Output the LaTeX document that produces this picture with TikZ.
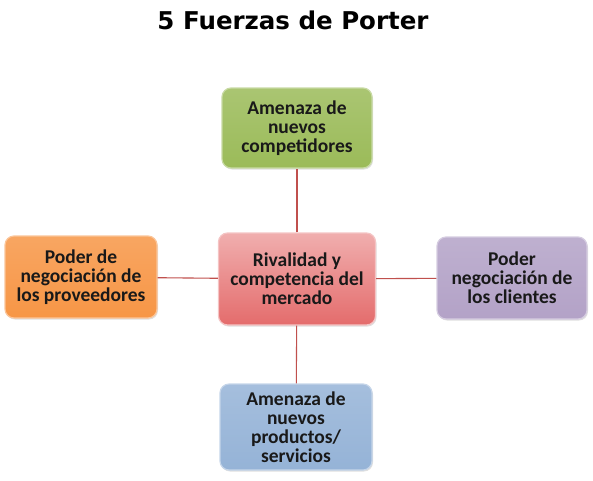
\documentclass[tikz,border=0pt]{standalone}
\usepackage{fontspec}
\setmainfont{Carlito}
\newfontfamily\titlefont{DejaVu Sans}
\usetikzlibrary{positioning,shadows}
\definecolor{verde}{HTML}{9BBB59}
\definecolor{naranja}{HTML}{F79646}
\definecolor{rojo}{HTML}{E46C6C}
\definecolor{morado}{HTML}{B3A2C7}
\definecolor{azul}{HTML}{95B3D7}
\definecolor{linea}{HTML}{C0504D}
\tikzset{
  fuerza/.style={rounded corners=9pt,minimum width=152pt,minimum height=82pt,
    align=center,font=\fontsize{19.5}{19}\selectfont\bfseries,text=black!90,
    inner sep=2pt,line width=1.2pt,drop shadow={shadow xshift=1pt,shadow yshift=-1.5pt,opacity=.25}},
  enlace/.style={linea,line width=1.1pt}
}
\begin{document}
\begin{tikzpicture}[x=1pt,y=-1pt]
                \useasboundingbox (0,0) rectangle (593,480);
                \node[font=\titlefont\fontsize{24.5}{28}\selectfont\bfseries] (titulo) at (293,20) {5 Fuerzas de Porter};
                % fuerza central
                \node[fuerza,minimum width=157pt,minimum height=92pt,top color=rojo!55,bottom color=rojo,draw=rojo!40] (rivalidad) at (297,279) {Rivalidad y\\competencia del\\mercado};
                \node[fuerza,minimum width=150pt,minimum height=80pt,top color=verde!85,bottom color=verde,draw=verde!55] (nuevos) at (297,128) {Amenaza de\\nuevos\\competidores};
                \node[fuerza,top color=naranja!85,bottom color=naranja,draw=naranja!55] (proveedores) at (81,277) {Poder de\\negociación de\\los proveedores};
                \node[fuerza,minimum width=150pt,top color=morado!85,bottom color=morado,draw=morado!55] (clientes) at (512,278) {Poder\\negociación de\\los clientes};
                \node[fuerza,minimum width=152pt,minimum height=86pt,top color=azul!85,bottom color=azul,draw=azul!55] (sustitutos) at (296,427) {Amenaza de\\nuevos\\productos/\\servicios};
                % conectores
                \draw[enlace] (rivalidad) -- (nuevos);
                \draw[enlace] (rivalidad) -- (proveedores);
                \draw[enlace] (rivalidad) -- (clientes);
                \draw[enlace] (rivalidad) -- (sustitutos);
            \end{tikzpicture}
\end{document}
